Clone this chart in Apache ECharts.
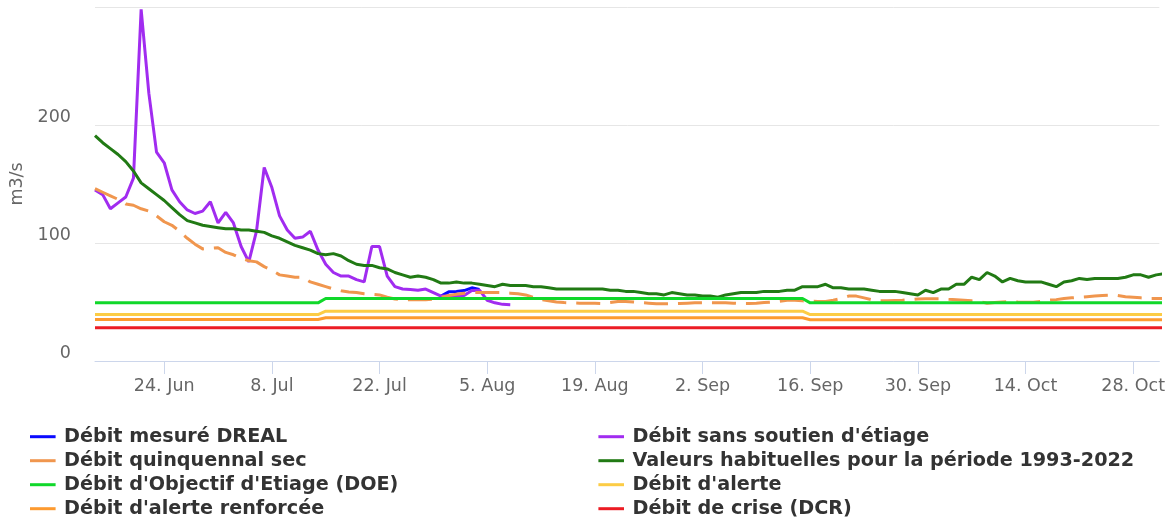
<!DOCTYPE html>
<html>
<head>
<meta charset="utf-8">
<script src="https://cdn.jsdelivr.net/npm/echarts@6/dist/echarts.min.js"></script>
<style>
  html, body { margin: 0; padding: 0; background: #ffffff; }
  #chart { width: 1168px; height: 521px; }
</style>
</head>
<body>
<div id="chart"></div>
<script>
// x values are day numbers, day 0 = 15 Jun
const tickDays = [9, 23, 37, 51, 65, 79, 93, 107, 121, 135];
const tickLabels = ["24. Jun", "8. Jul", "22. Jul", "5. Aug", "19. Aug", "2. Sep", "16. Sep", "30. Sep", "14. Oct", "28. Oct"];

// Débit mesuré DREAL (starts day 45)
const drealStart = 45;
const dreal = [55, 58.6, 59, 59.7, 62, 60.6];

// Débit sans soutien d'étiage (starts day 0)
const sansSoutien = [
  145, 141, 129, 134, 139, 155, 298, 227, 177, 168,
  145, 135, 128, 125, 127, 135, 117, 126, 117, 97,
  84, 110, 164, 147, 123, 111, 104, 105, 110, 94,
  82, 75, 72, 72, 69, 67, 97, 97, 72, 63,
  61, 60.5, 60, 61, 58, 55, 55, 55, 55.5, 59.7,
  60, 51.5, 49.3, 48, 47.7
];

// Débit quinquennal sec (day 0 .. 139)
const quinquennal = [
  146, 143, 140, 137, 133, 132, 129, 127, 123, 118,
  115, 110, 104, 99, 95, 95.5, 96, 92, 90, 87,
  85, 84, 80, 77, 73, 72, 71, 71, 67, 65,
  63, 61, 59.5, 58.5, 58, 57, 56.5, 56, 54, 52.5,
  52, 52, 52, 52, 52.5, 54, 55.5, 56.5, 57.5, 58,
  58, 58, 58, 58, 57.5, 57, 56, 54, 52, 51,
  50, 49.5, 49.3, 49, 49, 49, 48.7, 49.5, 50.5, 50.5,
  50, 49.5, 49, 48.5, 48.5, 48.5, 48.7, 49, 49.3, 49.3,
  49.3, 49.3, 49.3, 49, 48.7, 48.7, 49, 49.5, 50, 50.5,
  51.5, 51.5, 51, 50.7, 50.5, 50.5, 51.5, 53, 55, 55,
  53.5, 52, 51, 51, 51.3, 51.5, 52, 52.5, 52.7, 52.7,
  52.7, 52.3, 52, 51.5, 51, 50.5, 49, 49.5, 50, 50.4,
  50, 49.8, 49.8, 50.5, 51.5, 52, 53, 53.5, 54, 54.5,
  55, 55.5, 55.8, 55.5, 54.5, 54, 53.5, 53, 53, 53
];

// Valeurs habituelles pour la période 1993-2022 (day 0 .. 139)
const habituelles = [
  191, 185, 180, 175, 169, 161, 151, 146, 141, 136,
  130, 124, 119, 117, 115, 114, 113, 112, 112, 111,
  111, 110, 109, 106, 104, 101, 98, 96, 94, 91,
  90, 91, 89, 85, 82, 81, 81, 79, 78, 75,
  73, 71, 72, 71, 69, 66, 66, 67, 66, 66,
  65, 64, 63, 65, 64, 64, 64, 63, 63, 62,
  61, 61, 61, 61, 61, 61, 61, 60, 60, 59,
  59, 58, 57, 57, 56, 58, 57, 56, 56, 55,
  55, 54, 56, 57, 58, 58, 58, 59, 59, 59,
  60, 60, 63, 63, 63, 65, 62, 62, 61, 61,
  61, 60, 59, 59, 59, 58, 57, 56, 60, 58,
  61, 61, 65, 65, 71, 69, 75, 72, 67, 70,
  68, 67, 67, 67, 65, 63, 67, 68, 70, 69,
  70, 70, 70, 70, 71, 73, 73, 71, 73, 74
];

// threshold levels, given at the days where they change
const periodDays = [0, 29, 30, 92, 93, 139];
const doe = [49.3, 49.3, 53, 53, 49.3, 49.3];
const alerte = [39.4, 39.4, 42.2, 42.2, 39.4, 39.4];
const alerteRenforcee = [35.2, 35.2, 36.6, 36.6, 35, 35];
const crise = [28.1, 28.1, 28.1, 28.1, 28.1, 28.1];

const names = [
  "Débit mesuré DREAL",
  "Débit sans soutien d'étiage",
  "Débit quinquennal sec",
  "Valeurs habituelles pour la période 1993-2022",
  "Débit d'Objectif d'Etiage (DOE)",
  "Débit d'alerte",
  "Débit d'alerte renforcée",
  "Débit de crise (DCR)"
];
const colors = ["#0a0aff", "#a12cf0", "#f0964e", "#217a14", "#10d82a", "#fccc45", "#fd9a2f", "#ec1c24"];

function daily(values, start) {
  return values.map((v, i) => [start + i, v]);
}
function steps(values) {
  return values.map((v, i) => [periodDays[i], v]);
}

const seriesData = [
  daily(dreal, drealStart),
  daily(sansSoutien, 0),
  daily(quinquennal, 0),
  daily(habituelles, 0),
  steps(doe),
  steps(alerte),
  steps(alerteRenforcee),
  steps(crise)
];

const font = "DejaVu Sans";
const chart = echarts.init(document.getElementById("chart"), null, { renderer: "canvas" });

const legendBase = {
  orient: "vertical",
  top: 426.7,
  height: 200,
  icon: "rect",
  itemWidth: 25.6,
  itemHeight: 3,
  itemGap: 4,
  padding: 0,
  selectedMode: false,
  textStyle: {
    fontFamily: font,
    fontSize: 19.2,
    fontWeight: "bold",
    color: "#333333",
    lineHeight: 20,
    padding: [0, 0, 0, 3.5]
  }
};

chart.setOption({
  animation: false,
  backgroundColor: "#ffffff",
  grid: { left: 95, right: 0, top: 7, height: 354 },
  legend: [
    Object.assign({}, legendBase, { left: 30, data: [names[0], names[2], names[4], names[6]] }),
    Object.assign({}, legendBase, { left: 598.4, data: [names[1], names[3], names[5], names[7]] })
  ],
  xAxis: {
    type: "value",
    min: 0,
    max: 138.4,
    axisLine: { lineStyle: { color: "#ccd6eb", width: 1 } },
    axisTick: { customValues: tickDays, length: 13, lineStyle: { color: "#ccd6eb" } },
    axisLabel: {
      customValues: tickDays,
      formatter: (v) => tickLabels[tickDays.indexOf(v)] || "",
      color: "#666666",
      fontFamily: font,
      fontSize: 17.5,
      margin: 16
    },
    splitLine: { show: false }
  },
  yAxis: {
    type: "value",
    min: 0,
    max: 300,
    interval: 100,
    name: "m3/s",
    nameLocation: "middle",
    nameRotate: 90,
    nameGap: 68,
    nameTextStyle: { color: "#666666", fontFamily: font, fontSize: 17.5 },
    axisLine: { show: false },
    axisTick: { show: false },
    axisLabel: {
      formatter: (v) => (v === 300 ? "" : String(v)),
      color: "#666666",
      fontFamily: font,
      fontSize: 17.5,
      margin: 24,
      verticalAlign: "bottom",
      lineHeight: 16
    },
    splitLine: { lineStyle: { color: "#e6e6e6", width: 1 } }
  },
  series: names.map((name, i) => ({
    name: name,
    type: "line",
    data: seriesData[i],
    color: colors[i],
    showSymbol: false,
    symbol: "none",
    clip: true,
    lineStyle: {
      color: colors[i],
      width: 3,
      type: i === 2 ? [24, 10] : "solid"
    },
    emphasis: { disabled: true },
    z: 2 + i
  }))
});
</script>
</body>
</html>
